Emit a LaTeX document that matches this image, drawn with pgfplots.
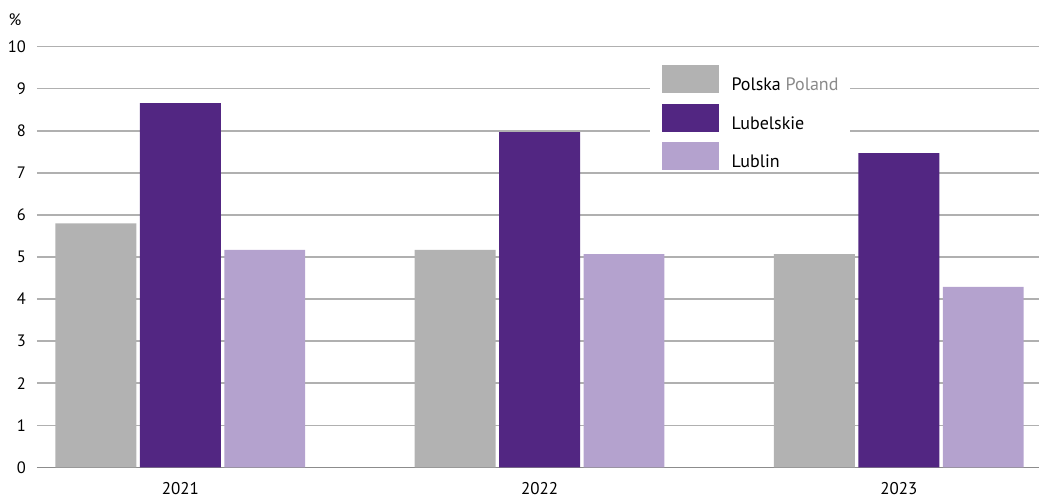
\documentclass[border=0pt]{standalone}
\usepackage{fontspec}
\setmainfont{PT Sans}
\usepackage{pgfplots}
\pgfplotsset{compat=1.18}
\definecolor{cgray}{HTML}{B2B2B2}
\definecolor{cpurple}{HTML}{522682}
\definecolor{clilac}{HTML}{B4A2CE}
\definecolor{cgrid}{HTML}{B0B0B0}
\definecolor{caxis}{HTML}{8C8C8C}
\definecolor{ctext}{HTML}{8A8A8A}
\newcommand{\fs}{\fontsize{16.5}{19}\selectfont}
\newcommand{\fx}{\fontsize{17}{20}\selectfont}
\newcommand{\fl}{\fontsize{18}{21}\selectfont}
\begin{document}
\begin{tikzpicture}
\begin{axis}[
  scale only axis,
  width=1003pt, height=421pt,
  xmin=-0.399, xmax=2.391,
  ymin=0, ymax=10,
  ybar=3.5pt, bar width=81pt,
  xtick={0,1,2},
  xticklabels={2021,2022,2023},
  ytick={0,1,...,10},
  major tick length=0pt,
  axis x line*=bottom,
  axis y line*=left,
  y axis line style={draw=none},
  x axis line style={draw=caxis, line width=1.5pt, -},
  ymajorgrids,
  grid style={draw=cgrid, line width=1.5pt},
  yticklabel style={font=\fs, inner sep=0pt, anchor=east, xshift=-11pt},
  xticklabel style={font=\fx, inner sep=0pt, anchor=north, yshift=-15pt},
  /pgf/number format/assume math mode=true,
  legend style={draw=none, fill=white, at={(0.611,0.9587)}, anchor=north west,
    inner xsep=12pt, inner ysep=1pt, row sep=10.5pt, column sep=13pt,
    nodes={inner sep=0pt, font=\fl}, legend cell align=left},
  legend image code/.code={\fill[#1] (0pt,-8pt) rectangle (57pt,20pt);},
]
\addplot[fill=cgray, draw=none] coordinates {(0,5.80) (1,5.17) (2,5.07)};
\addplot[fill=cpurple, draw=none] coordinates {(0,8.66) (1,7.97) (2,7.47)};
\addplot[fill=clilac, draw=none] coordinates {(0,5.17) (1,5.07) (2,4.29)};
\legend{Polska {\color{ctext}Poland}, Lubelskie, Lublin}
\end{axis}
\node[font=\fs, inner sep=0pt] at ([xshift=-22pt, yshift=27pt]current axis.north west) {\%};
\path ([xshift=-37pt,yshift=-31pt]current axis.south west) rectangle ([yshift=46.7pt]current axis.north east);
\end{tikzpicture}
\end{document}
